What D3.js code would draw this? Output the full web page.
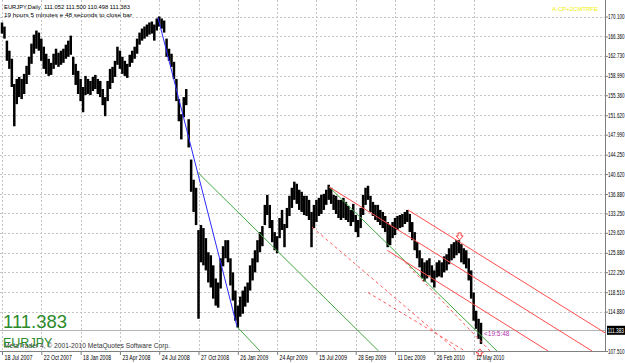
<!DOCTYPE html>
<html>
<head>
<meta charset="utf-8">
<script src="https://cdn.jsdelivr.net/npm/d3@7"></script>
<style>
  body { margin: 0; background: #fff; }
  svg { display: block; }
  text { font-family: 'Liberation Sans', Arial, sans-serif; }
</style>
</head>
<body>
<svg id="chart" width="625" height="363"></svg>
<script>
// price bars, ~4 trading days per entry
const barHigh = [
  168.98, 168.22, 165.58, 163.70, 162.19, 157.47, 158.42, 158.79, 158.42, 159.36,
  160.87, 162.56, 165.02, 166.71, 167.47, 167.09, 165.96, 164.45, 163.13, 162.19,
  161.43, 163.13, 164.07, 163.32, 163.70, 164.07, 164.83, 165.58, 166.52, 162.56,
  161.24, 159.93, 158.42, 156.91, 158.98, 158.42, 158.04, 158.79, 159.17, 158.42,
  158.04, 156.53, 155.02, 158.04, 160.30, 160.68, 161.81, 164.45, 163.70, 162.56,
  161.81, 161.24, 162.94, 163.70, 164.45, 165.96, 167.09, 167.84, 168.22, 168.60,
  168.98, 169.16, 168.60, 169.73, 170.11, 169.73, 169.35, 165.96, 164.07, 163.13,
  161.62, 158.42, 154.65, 151.82, 155.02, 156.53, 150.88, 143.33, 139.56, 138.05,
  130.14, 131.08, 130.51, 128.63, 125.99, 125.42, 123.54, 121.09, 120.33, 124.86,
  127.12, 128.25, 128.25, 124.86, 122.22, 118.82, 116.00, 117.69, 118.82, 119.58,
  120.33, 123.54, 124.86, 126.36, 128.25, 129.76, 130.89, 134.85, 136.73, 134.85,
  132.02, 129.76, 129.00, 132.40, 133.91, 131.27, 134.28, 136.55, 138.05, 139.19,
  138.81, 137.68, 137.30, 136.55, 136.55, 135.79, 133.53, 134.85, 135.79, 136.17,
  136.73, 136.92, 137.68, 138.62, 138.05, 136.73, 136.55, 135.79, 135.79, 136.17,
  135.41, 134.66, 133.91, 135.04, 132.96, 132.02, 134.28, 136.73, 138.05, 138.43,
  136.55, 135.41, 134.85, 134.85, 133.91, 133.53, 132.78, 131.64, 131.08, 131.64,
  132.40, 132.78, 132.96, 133.15, 133.53, 133.91, 133.15, 131.64, 129.76, 127.87,
  126.36, 124.86, 124.10, 124.48, 124.86, 123.54, 122.59, 124.10, 124.48, 124.10,
  125.23, 125.61, 126.74, 127.50, 127.87, 128.25, 128.25, 127.50, 126.74, 126.36,
  124.86, 122.59, 118.45, 115.05, 113.54, 112.79
]
const barLow = [
  166.90, 165.96, 161.81, 160.30, 156.91, 149.56, 153.70, 155.02, 154.65, 155.59,
  157.47, 159.17, 161.24, 163.13, 164.07, 163.70, 161.81, 160.30, 159.36, 158.98,
  159.17, 160.30, 161.06, 160.68, 161.06, 161.43, 162.19, 162.56, 162.94, 159.17,
  157.29, 155.59, 154.27, 152.19, 155.40, 155.59, 155.40, 156.15, 156.53, 155.59,
  155.02, 153.51, 151.44, 154.27, 156.53, 157.66, 158.79, 161.06, 160.30, 159.36,
  158.98, 158.61, 160.68, 161.43, 162.19, 163.13, 164.83, 165.58, 165.96, 166.34,
  166.71, 166.90, 165.58, 167.47, 168.22, 167.84, 167.09, 162.56, 161.81, 160.68,
  158.42, 154.27, 150.50, 147.10, 151.25, 153.51, 145.60, 137.30, 133.53, 131.08,
  113.54, 124.10, 123.54, 122.59, 120.33, 119.39, 117.31, 116.00, 115.62, 119.20,
  123.35, 124.86, 124.10, 119.77, 116.94, 113.17, 111.85, 113.92, 114.49, 115.81,
  116.56, 118.82, 120.71, 122.22, 124.10, 125.99, 127.12, 131.08, 132.96, 130.51,
  127.87, 126.36, 125.80, 128.63, 130.14, 126.93, 130.51, 132.78, 134.28, 135.79,
  135.04, 133.91, 133.53, 132.96, 132.78, 132.02, 126.93, 130.51, 131.64, 132.78,
  133.15, 133.91, 134.85, 135.79, 135.04, 133.91, 133.15, 132.40, 132.02, 132.40,
  132.02, 131.64, 130.89, 131.64, 129.76, 128.82, 130.51, 132.96, 134.85, 135.79,
  133.53, 132.78, 132.02, 131.64, 131.08, 130.51, 129.76, 126.93, 127.31, 128.63,
  129.19, 130.14, 130.51, 130.70, 131.27, 131.64, 129.76, 128.25, 126.36, 124.86,
  123.16, 121.09, 120.52, 121.09, 121.65, 120.33, 119.39, 121.27, 121.46, 121.27,
  122.22, 122.59, 123.73, 124.48, 124.86, 125.42, 125.80, 124.10, 123.73, 122.97,
  120.71, 117.31, 113.17, 111.66, 109.77, 108.83
]

const dateLabels = [
  '18 Jul 2007', '22 Oct 2007', '18 Jan 2008', '23 Apr 2008', '24 Jul 2008',
  '27 Oct 2008', '26 Jan 2009', '24 Apr 2009', '15 Jul 2009', '28 Sep 2009',
  '11 Dec 2009', '26 Feb 2010', '12 May 2010'
]
const dateIndex = [0, 16, 32, 48, 64, 80, 96, 112, 128, 144, 160, 176, 192]

const priceTicks = [
  170.10, 166.36, 162.73, 158.99, 155.36, 151.62, 147.99, 144.25, 140.62,
  136.88, 133.25, 129.62, 125.88, 122.25, 118.51, 114.88, 107.51
]

const lastBar = { open: 111.052, high: 111.5, low: 110.498, close: 111.383 }

// drawn objects: [bar index, price] endpoints
const trendLines = [
  { kind: 'blue', from: [63.5, 169.92], to: [95.7, 112.04] },
  { kind: 'green', from: [79.8, 140.88], to: [153.3, 107.51] },
  { kind: 'green', from: [95.7, 112.04], to: [105.0, 107.51] },
  { kind: 'green', from: [133.1, 138.24], to: [201.5, 107.51] },
  { kind: 'red', from: [165.3, 133.91], to: [245.5, 110.9] },
  { kind: 'red', from: [133.1, 138.24], to: [240.2, 107.51] },
  { kind: 'red', from: [156.8, 126.36], to: [222.3, 107.51] },
  { kind: 'reddash', from: [126.2, 130.7], to: [185.3, 107.51] },
  { kind: 'reddash', from: [149.0, 118.45], to: [188.5, 107.51] },
  { kind: 'reddash', from: [164.1, 124.1], to: [198.7, 107.51] }
]

const arrowMarks = [
  { idx: 186.3, price: 128.3, dir: 'down' },
  { idx: 194.5, price: 107.9, dir: 'up' }
]

const lineStyle = {
  blue: { stroke: '#2b2bff', dash: null },
  green: { stroke: '#44a844', dash: null },
  red: { stroke: '#ff4c4c', dash: null },
  reddash: { stroke: '#ff5a5a', dash: '3,3' }
}

const svg = d3.select('#chart')
const W = 625
const right = 605
const bottom = 351
const fmt = d3.format('.3f')

const x = d3.scaleLinear().domain([0, 195]).range([2, 481])
const y = d3.scaleLinear().domain([107.51, 170.1]).range([351, 16.5])

svg.append('rect').attr('width', W).attr('height', 363).attr('fill', '#fff')

svg.append('defs').append('clipPath').attr('id', 'plot')
  .append('rect').attr('x', 0).attr('y', 0).attr('width', right).attr('height', bottom)

// grid
const grid = svg.append('g')
  .attr('stroke', '#c4c4c4')
  .attr('stroke-dasharray', '2,2')
  .attr('shape-rendering', 'crispEdges')
grid.selectAll('line.h')
  .data(priceTicks.slice(0, -1))
  .enter()
  .append('line')
  .attr('class', 'h')
  .attr('x1', 0)
  .attr('x2', right)
  .attr('y1', (d) => Math.round(y(d)) + 0.5)
  .attr('y2', (d) => Math.round(y(d)) + 0.5)
grid.selectAll('line.v')
  .data(dateIndex)
  .enter()
  .append('line')
  .attr('class', 'v')
  .attr('x1', (d) => Math.round(x(d)) + 0.5)
  .attr('x2', (d) => Math.round(x(d)) + 0.5)
  .attr('y1', 0)
  .attr('y2', bottom)

// current price line
svg.append('line')
  .attr('x1', 0)
  .attr('x2', right)
  .attr('y1', Math.round(y(lastBar.close)) + 0.5)
  .attr('y2', Math.round(y(lastBar.close)) + 0.5)
  .attr('stroke', '#b4b4b4')

// bars
svg.append('g')
  .selectAll('line')
  .data(barHigh)
  .enter()
  .append('line')
  .attr('x1', (d, i) => x(i))
  .attr('x2', (d, i) => x(i))
  .attr('y1', (d) => y(d))
  .attr('y2', (d, i) => y(barLow[i]))
  .attr('stroke', '#000')
  .attr('stroke-width', 2.5)

// trend lines
svg.append('g')
  .attr('clip-path', 'url(#plot)')
  .selectAll('line')
  .data(trendLines)
  .enter()
  .append('line')
  .attr('x1', (d) => x(d.from[0]))
  .attr('y1', (d) => y(d.from[1]))
  .attr('x2', (d) => x(d.to[0]))
  .attr('y2', (d) => y(d.to[1]))
  .attr('stroke', (d) => lineStyle[d.kind].stroke)
  .attr('stroke-dasharray', (d) => lineStyle[d.kind].dash)
  .attr('stroke-width', 1)

// arrows
const arrowPath = 'M-1.5,0 L1.5,0 L1.5,3 L3.5,3 L0,7 L-3.5,3 L-1.5,3 Z'
svg.append('g')
  .selectAll('path')
  .data(arrowMarks)
  .enter()
  .append('path')
  .attr('d', arrowPath)
  .attr('transform', (d) =>
    d.dir === 'down'
      ? `translate(${x(d.idx)},${y(d.price) - 7})`
      : `translate(${x(d.idx)},${y(d.price) + 7}) scale(1,-1)`
  )
  .attr('fill', '#fff')
  .attr('stroke', '#ff3030')
  .attr('stroke-width', 0.9)

// axes
const yAxis = svg.append('g')
  .attr('transform', `translate(${right},0)`)
  .call(d3.axisRight(y).tickValues(priceTicks).tickFormat(fmt).tickSize(3))
yAxis.select('.domain').attr('stroke', '#808080').attr('d', `M0.5,0V${bottom + 0.5}`)
yAxis.selectAll('.tick line').attr('stroke', '#808080')
yAxis.selectAll('.tick text')
  .attr('x', 3)
  .attr('font-size', 6.3)
  .attr('font-family', 'Liberation Sans, Arial, sans-serif')
  .attr('fill', '#000')
  .attr('textLength', 16.5)
  .attr('lengthAdjust', 'spacingAndGlyphs')

const xAxis = svg.append('g')
  .attr('transform', `translate(0,${bottom})`)
  .call(d3.axisBottom(x).tickValues(dateIndex).tickFormat((d, i) => dateLabels[i]).tickSize(4))
xAxis.select('.domain').attr('stroke', '#808080').attr('d', `M0,0.5H${right + 1}`)
xAxis.selectAll('.tick line').attr('stroke', '#808080')
xAxis.selectAll('.tick text')
  .attr('text-anchor', 'start')
  .attr('x', 2)
  .attr('y', 5)
  .attr('font-size', 6.3)
  .attr('font-family', 'Liberation Sans, Arial, sans-serif')
  .attr('fill', '#000')
  .attr('textLength', 28)
  .attr('lengthAdjust', 'spacingAndGlyphs')

// current price label
const cy = y(lastBar.close)
svg.append('rect')
  .attr('x', right + 2)
  .attr('y', cy - 4.5)
  .attr('width', 18)
  .attr('height', 9)
  .attr('fill', '#000')
svg.append('text')
  .attr('x', right + 2.5)
  .attr('y', cy)
  .attr('dy', '0.35em')
  .attr('font-size', 6.3)
  .attr('fill', '#fff')
  .attr('textLength', 16.5)
  .attr('lengthAdjust', 'spacingAndGlyphs')
  .text(fmt(lastBar.close))

// texts
svg.append('text')
  .attr('x', 4)
  .attr('y', 8.5)
  .attr('font-size', 6.2)
  .attr('fill', '#000')
  .attr('xml:space', 'preserve')
  .attr('textLength', 126)
  .attr('lengthAdjust', 'spacingAndGlyphs')
  .text(`EURJPY,Daily  ${fmt(lastBar.open)} ${fmt(lastBar.high)} ${fmt(lastBar.low)} ${fmt(lastBar.close)}`)
svg.append('text')
  .attr('x', 4)
  .attr('y', 16.5)
  .attr('font-size', 6.2)
  .attr('fill', '#000')
  .attr('textLength', 128)
  .attr('lengthAdjust', 'spacingAndGlyphs')
  .text('19 hours 5 minutes e 48 seconds to close bar')

svg.append('text')
  .attr('x', 552)
  .attr('y', 11)
  .attr('font-size', 6)
  .attr('fill', '#f0f000')
  .attr('textLength', 46)
  .attr('lengthAdjust', 'spacingAndGlyphs')
  .text('A-CP+2CMTRFE')

svg.append('text')
  .attr('x', 484)
  .attr('y', 336)
  .attr('font-size', 6.5)
  .attr('fill', '#b030b0')
  .text('<19:5:48')

svg.append('text')
  .attr('x', 3)
  .attr('y', 328)
  .attr('font-size', 18.5)
  .attr('fill', '#2a8a2a')
  .text(fmt(lastBar.close))

svg.append('text')
  .attr('x', 4)
  .attr('y', 348)
  .attr('font-size', 6.5)
  .attr('fill', '#333')
  .attr('textLength', 166)
  .attr('lengthAdjust', 'spacingAndGlyphs')
  .text('MetaTrader 4, \u00a9 2001-2010 MetaQuotes Software Corp.')

svg.append('text')
  .attr('x', 3)
  .attr('y', 347)
  .attr('font-size', 12.5)
  .attr('fill', '#2a8a2a')
  .text('EURJPY')
</script>
</body>
</html>
